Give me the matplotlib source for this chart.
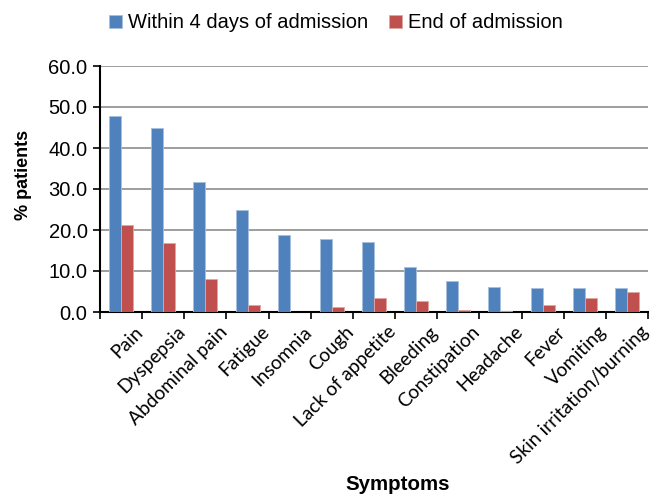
import matplotlib
matplotlib.use("Agg")
import matplotlib.pyplot as plt
import numpy as np

symptoms = ["Pain", "Dyspepsia", "Abdominal pain", "Fatigue", "Insomnia", "Cough",
            "Lack of appetite", "Bleeding", "Constipation", "Headache", "Fever",
            "Vomiting", "Skin irritation/burning"]
within_4_days = [47.7, 44.9, 31.6, 25.0, 18.7, 17.7, 17.0, 11.0, 7.6, 6.2, 5.8, 5.8, 5.8]
end_of_admission = [21.3, 16.9, 8.0, 1.8, 0.0, 1.3, 3.5, 2.8, 0.6, 0.3, 1.7, 3.5, 4.8]
series_names = ["Within 4 days of admission", "End of admission"]
yticks = [0, 10, 20, 30, 40, 50, 60]

BLUE = "#4F81BD"
RED = "#C0504D"

fig = plt.figure(figsize=(6.51, 4.95), dpi=100)
ax = fig.add_axes([100 / 651, 1 - 312 / 495, 548 / 651, 246 / 495])

x = np.arange(len(symptoms))
w = 0.285
ax.bar(x - w / 2, within_4_days, width=w, color=BLUE, edgecolor="#A7C0DE", linewidth=0.6,
       label=series_names[0], zorder=3)
ax.bar(x + w / 2, end_of_admission, width=w, color=RED, edgecolor="#E0A5A3", linewidth=0.6,
       label=series_names[1], zorder=3)

ax.set_xlim(-0.5, len(symptoms) - 0.5)
ax.set_ylim(0, 60)
ax.set_yticks(yticks)
ax.set_yticklabels([f"{v:.1f}" for v in yticks], fontfamily="Liberation Sans", fontsize=14.5)
ax.yaxis.grid(True, color="#8C8C8C", linewidth=1.2, zorder=0)
ax.set_axisbelow(True)

# category separators as ticks on the x axis
ax.set_xticks(np.arange(len(symptoms) + 1) - 0.5)
ax.set_xticklabels([])
ax.tick_params(axis="x", direction="out", length=5, width=1.2, color="black")
ax.tick_params(axis="y", direction="out", length=5, width=1.2, color="black", pad=4)

for sp in ["top", "right"]:
    ax.spines[sp].set_visible(False)
for sp in ["left", "bottom"]:
    ax.spines[sp].set_linewidth(1.5)

# rotated category labels
for i, name in enumerate(symptoms):
    ax.annotate(name, xy=(i, 0), xycoords=("data", "axes fraction"),
                xytext=(19, -17), textcoords="offset pixels",
                rotation=45, rotation_mode="anchor", ha="right", va="center",
                fontfamily="Lato", fontsize=13.8)

fig.text(24 / 651, 1 - 175 / 495, "% patients", rotation=90, ha="center", va="center",
         fontfamily="Liberation Sans", fontweight="bold", fontsize=13)
fig.text(398 / 651, 1 - 484 / 495, "Symptoms", ha="center", va="center",
         fontfamily="Liberation Sans", fontweight="bold", fontsize=14.8)

fig.legend(loc="center", bbox_to_anchor=(336 / 651, 1 - 23 / 495), ncol=2, frameon=False,
           prop={"family": "Liberation Sans", "size": 14.5}, handlelength=0.65, handleheight=0.65,
           handletextpad=0.3, columnspacing=1.0)

fig.savefig("out.png", dpi=100)
